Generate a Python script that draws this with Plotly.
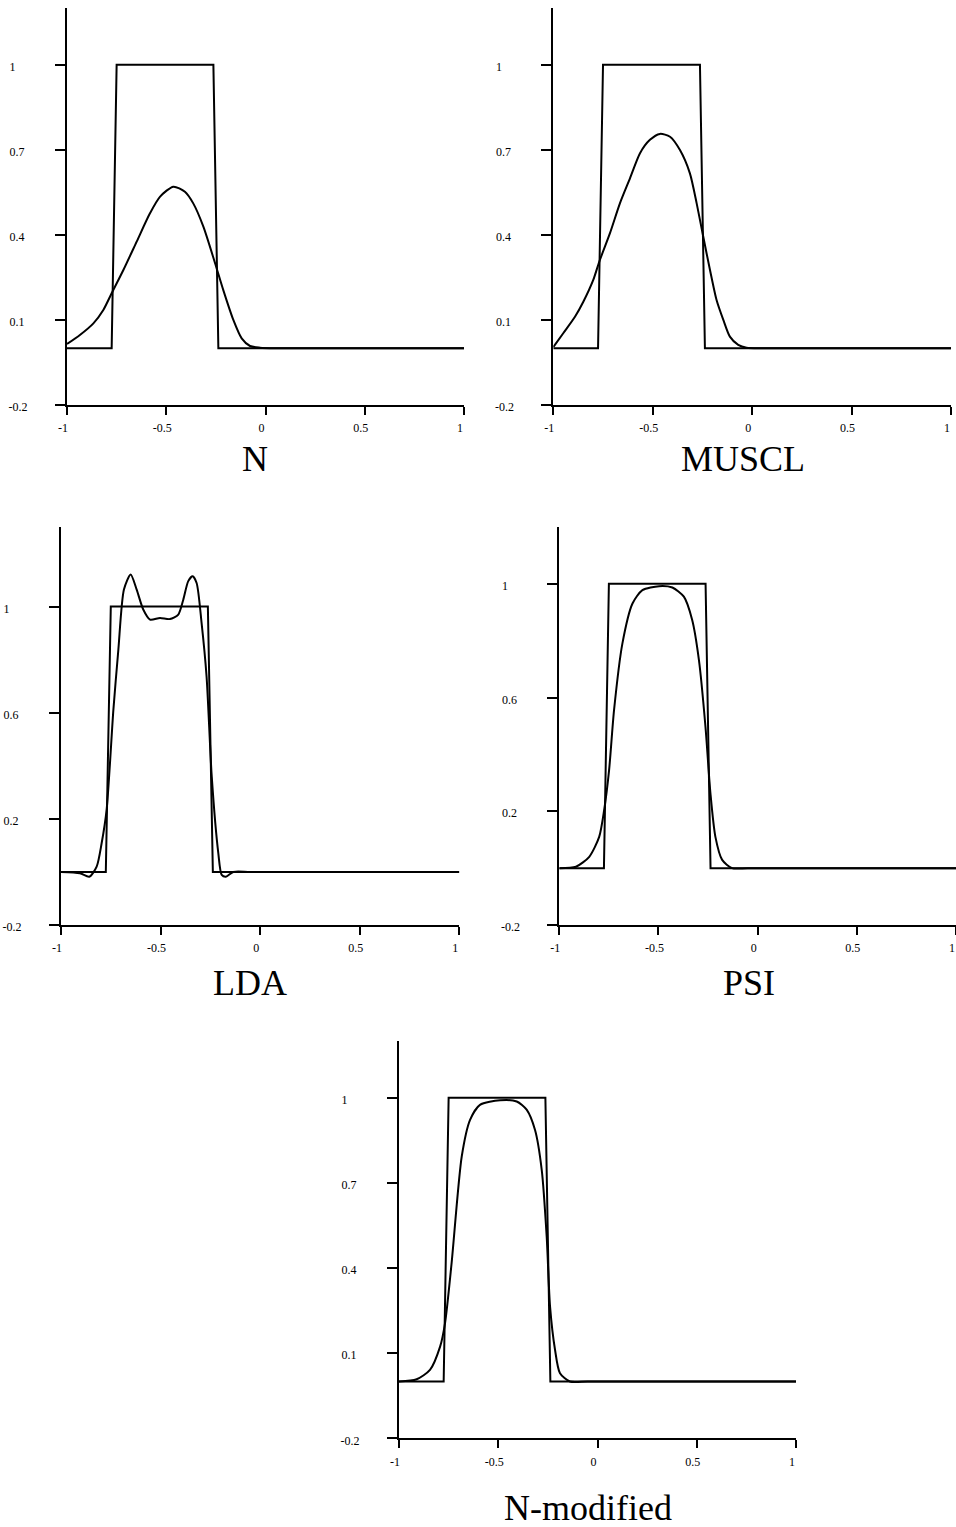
import plotly.graph_objects as go

# ---------------- data ----------------
step_x = [-1.0, -0.775, -0.75, -0.2625, -0.2375, 1.0]
step_y = [0, 0, 1, 1, 0, 0]

N_x = [-1.0, -0.935, -0.867, -0.817, -0.775, -0.716, -0.649, -0.582, -0.531, -0.464,
       -0.406, -0.364, -0.313, -0.254, -0.213, -0.162, -0.120, -0.078, -0.028, 0.05, 0.4, 1.0]
N_y = [0.015, 0.047, 0.088, 0.135, 0.194, 0.276, 0.376, 0.476, 0.535, 0.570,
       0.552, 0.511, 0.429, 0.300, 0.206, 0.100, 0.035, 0.008, 0.002, 0.0, 0.0, 0.0]

MUSCL_x = [-1.0, -0.950, -0.891, -0.849, -0.799, -0.769, -0.715, -0.665, -0.614, -0.564,
           -0.514, -0.464, -0.413, -0.363, -0.313, -0.279, -0.246, -0.212, -0.179, -0.145,
           -0.112, -0.070, -0.028, 0.05, 0.4, 1.0]
MUSCL_y = [0.004, 0.053, 0.111, 0.164, 0.241, 0.305, 0.406, 0.511, 0.600, 0.688,
           0.735, 0.756, 0.746, 0.699, 0.617, 0.511, 0.394, 0.276, 0.170, 0.100,
           0.041, 0.012, 0.002, 0.0, 0.0, 0.0]

LDA_x = [-1.0, -0.905, -0.858, -0.821, -0.796, -0.771, -0.737, -0.712, -0.684, -0.650,
         -0.620, -0.587, -0.553, -0.503, -0.453, -0.411, -0.386, -0.361, -0.339, -0.319,
         -0.294, -0.269, -0.243, -0.210, -0.193, -0.172, -0.135, -0.05, 0.3, 1.0]
LDA_y = [0.0, -0.005, -0.018, 0.02, 0.108, 0.234, 0.611, 0.838, 1.064, 1.121,
         1.064, 0.989, 0.951, 0.957, 0.953, 0.970, 1.026, 1.096, 1.114, 1.089,
         0.938, 0.736, 0.358, 0.07, -0.011, -0.018, 0.0, 0.0, 0.0, 0.0]

PSI_x = [-1.0, -0.916, -0.849, -0.799, -0.774, -0.749, -0.724, -0.682, -0.631, -0.581,
         -0.497, -0.430, -0.372, -0.330, -0.296, -0.263, -0.238, -0.213, -0.179, -0.129,
         -0.05, 0.3, 1.0]
PSI_y = [0.0, 0.005, 0.04, 0.11, 0.204, 0.345, 0.556, 0.79, 0.931, 0.978,
         0.992, 0.987, 0.955, 0.873, 0.732, 0.497, 0.263, 0.11, 0.029, 0.0,
         0.0, 0.0, 0.0]

NMOD_x = [-1.0, -0.911, -0.844, -0.793, -0.768, -0.735, -0.684, -0.642, -0.592, -0.491,
          -0.407, -0.357, -0.315, -0.281, -0.256, -0.239, -0.214, -0.189, -0.139,
          -0.05, 0.3, 1.0]
NMOD_y = [0.0, 0.008, 0.041, 0.123, 0.206, 0.417, 0.793, 0.922, 0.975, 0.991,
          0.987, 0.958, 0.887, 0.746, 0.511, 0.264, 0.112, 0.029, 0.0,
          0.0, 0.0, 0.0]

x_tick_vals = [-1, -0.5, 0, 0.5, 1]
x_tick_text = ["-1", "-0.5", "0", "0.5", "1"]
y_ticks_a = [-0.2, 0.1, 0.4, 0.7, 1]
y_ticks_a_text = ["-0.2", "0.1", "0.4", "0.7", "1"]
y_ticks_b = [-0.2, 0.2, 0.6, 1]
y_ticks_b_text = ["-0.2", "0.2", "0.6", "1"]

titles = ["N", "MUSCL", "LDA", "PSI", "N-modified"]

# ---------------- layout ----------------
W, H = 956, 1527
FONT = "Liberation Serif, Times New Roman, serif"


def pad_label(t):
    # emulate the left-aligned tick labels of the reference
    if t.startswith("-"):
        return t
    if len(t) == 1:
        return t + "\u2007\u2007"
    return t + "\u00a0"


panels = [
    (N_x, N_y, (67, 464), (8, 405), [-0.2, 1.2], y_ticks_a, y_ticks_a_text, (255, 459)),
    (MUSCL_x, MUSCL_y, (553.3, 951), (8, 405), [-0.2, 1.2], y_ticks_a, y_ticks_a_text, (742.7, 459)),
    (LDA_x, LDA_y, (61, 459.3), (527, 925), [-0.2, 1.3], y_ticks_b, y_ticks_b_text, (250, 983)),
    (PSI_x, PSI_y, (559.3, 956), (527, 925), [-0.2, 1.2], y_ticks_b, y_ticks_b_text, (749, 983)),
    (NMOD_x, NMOD_y, (399, 796), (1041, 1438.3), [-0.2, 1.2], y_ticks_a, y_ticks_a_text, (588, 1508)),
]

fig = go.Figure()
layout = dict(
    template="none",
    width=W, height=H, autosize=False,
    margin=dict(l=0, r=0, t=0, b=0, pad=0),
    paper_bgcolor="white", plot_bgcolor="white",
    showlegend=False,
    font=dict(family=FONT, color="black", size=12),
)
annotations = []

for i, (cx, cy, xd, yd, yr, yt, ytt, tpos) in enumerate(panels):
    n = i + 1
    xa = "x" if n == 1 else f"x{n}"
    ya = "y" if n == 1 else f"y{n}"
    fig.add_trace(go.Scatter(x=step_x, y=step_y, mode="lines",
                             line=dict(color="black", width=2),
                             xaxis=xa, yaxis=ya, cliponaxis=False, hoverinfo="skip"))
    fig.add_trace(go.Scatter(x=cx, y=cy, mode="lines",
                             line=dict(color="black", width=2, shape="spline", smoothing=0.7),
                             xaxis=xa, yaxis=ya, cliponaxis=False, hoverinfo="skip"))
    xkey = "xaxis" if n == 1 else f"xaxis{n}"
    ykey = "yaxis" if n == 1 else f"yaxis{n}"
    layout[xkey] = dict(
        domain=[xd[0] / W, min(xd[1] / W, 1.0)], range=[-1, 1], anchor=ya,
        automargin=False,
        showgrid=False, zeroline=False, showline=True, linecolor="black", linewidth=2,
        ticks="outside", ticklen=8, tickwidth=2, tickcolor="black",
        tickvals=x_tick_vals, ticktext=x_tick_text,
        tickfont=dict(family=FONT, size=12, color="black"),
        ticklabelstandoff=3, ticklabelshift=-4,
        fixedrange=True,
    )
    layout[ykey] = dict(
        domain=[1 - yd[1] / H, 1 - yd[0] / H], range=yr, anchor=xa,
        automargin=False,
        showgrid=False, zeroline=False, showline=True, linecolor="black", linewidth=2,
        ticks="outside", ticklen=10, tickwidth=2, tickcolor="black",
        tickvals=yt, ticktext=[pad_label(t) for t in ytt],
        tickfont=dict(family=FONT, size=12, color="black"),
        ticklabelstandoff=25, ticklabelshift=2,
        fixedrange=True,
    )
    annotations.append(dict(
        text=titles[i], x=tpos[0] / W, y=1 - tpos[1] / H, xref="paper", yref="paper",
        xanchor="center", yanchor="middle", showarrow=False,
        font=dict(family=FONT, size=36, color="black"),
    ))

layout["annotations"] = annotations
fig.update_layout(**layout)
fig.write_html(
    "out.html",
    config={"displayModeBar": False},
    post_script="document.body.style.margin='0';document.body.style.overflow='hidden';",
)
